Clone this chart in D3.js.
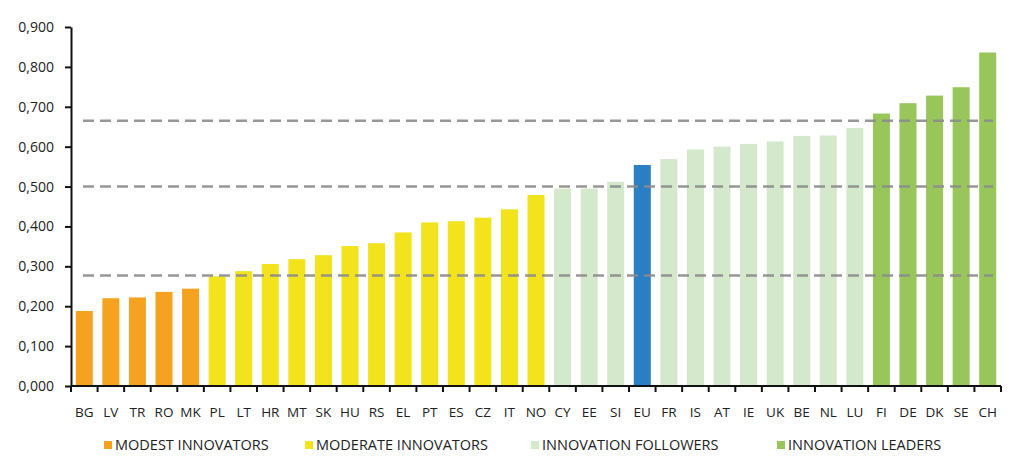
<!DOCTYPE html>
<head>
<meta charset="utf-8">
<script src="https://cdn.jsdelivr.net/npm/d3@7"></script>
<style>
  body { margin: 0; background: #fff; }
  text { font-family: "Open Sans", sans-serif; fill: #222; }
  .axis .domain { stroke: #111; stroke-width: 2; }
  .axis .tick line { stroke: #111; stroke-width: 2; }
</style>
</head>
<body>
<svg width="1024" height="469"></svg>

<script>
// data
var countries = ["BG","LV","TR","RO","MK","PL","LT","HR","MT","SK","HU","RS","EL","PT","ES","CZ","IT","NO",
                 "CY","EE","SI","EU","FR","IS","AT","IE","UK","BE","NL","LU","FI","DE","DK","SE","CH"];
var scores = [0.188,0.220,0.222,0.236,0.244,0.275,0.288,0.306,0.318,0.328,0.351,0.358,0.385,0.410,0.413,0.422,0.443,0.479,
              0.495,0.495,0.512,0.554,0.569,0.593,0.600,0.607,0.613,0.627,0.628,0.647,0.683,0.709,0.728,0.749,0.836];
var groups = ["modest","modest","modest","modest","modest",
              "moderate","moderate","moderate","moderate","moderate","moderate","moderate","moderate","moderate","moderate","moderate","moderate","moderate",
              "follower","follower","follower","eu","follower","follower","follower","follower","follower","follower","follower","follower",
              "leader","leader","leader","leader","leader"];
var thresholds = [0.277, 0.500, 0.665];
var yTicks = [0,0.1,0.2,0.3,0.4,0.5,0.6,0.7,0.8,0.9];
var legendKeys = ["modest","moderate","follower","leader"];
var legendLabels = ["MODEST INNOVATORS","MODERATE INNOVATORS","INNOVATION FOLLOWERS","INNOVATION LEADERS"];

var colors = {modest:"#f4a21f", moderate:"#f2e31c", follower:"#d4e8cb", eu:"#2a7fc4", leader:"#98c65a"};

var data = countries.map(function(c, i) { return {name: c, value: scores[i], group: groups[i]}; });

var svg = d3.select("svg"),
    margin = {top: 27, right: 23, bottom: 83, left: 71},
    width = +svg.attr("width") - margin.left - margin.right,
    height = +svg.attr("height") - margin.top - margin.bottom,
    g = svg.append("g").attr("transform", "translate(" + margin.left + "," + margin.top + ")");

var x = d3.scaleBand()
    .domain(countries)
    .range([0, width])
    .paddingInner(0.36)
    .paddingOuter(0.18);

var y = d3.scaleLinear()
    .domain([0, 0.9])
    .range([height, 0]);

var fmt = function(d) { return d3.format(".3f")(d).replace(".", ","); };

g.selectAll(".bar")
  .data(data)
  .enter().append("rect")
    .attr("class", "bar")
    .attr("x", function(d) { return x(d.name); })
    .attr("y", function(d) { return y(d.value); })
    .attr("width", x.bandwidth())
    .attr("height", function(d) { return y(0) - y(d.value); })
    .attr("fill", function(d) { return colors[d.group]; });

// dashed threshold lines
g.selectAll(".thr")
  .data(thresholds)
  .enter().append("line")
    .attr("class", "thr")
    .attr("x1", 12)
    .attr("x2", width - 8)
    .attr("y1", function(d) { return y(d); })
    .attr("y2", function(d) { return y(d); })
    .attr("stroke", "#8c8c8c")
    .attr("stroke-opacity", 0.9)
    .attr("stroke-width", 2.5)
    .attr("stroke-dasharray", "11,6");

// x axis, ticks at band edges
var xAxis = g.append("g")
    .attr("class", "axis")
    .attr("transform", "translate(0," + height + ")");
xAxis.append("line")
    .attr("class", "domain")
    .attr("x1", 0).attr("x2", width)
    .attr("stroke", "#111").attr("stroke-width", 2);
xAxis.selectAll(".tick")
  .data(d3.range(countries.length + 1))
  .enter().append("line")
    .attr("x1", function(i) { return i * width / countries.length; })
    .attr("x2", function(i) { return i * width / countries.length; })
    .attr("y1", 0).attr("y2", 6)
    .attr("stroke", "#111").attr("stroke-width", 2);
xAxis.selectAll(".lbl")
  .data(countries)
  .enter().append("text")
    .attr("x", function(d) { return x(d) + x.bandwidth() / 2; })
    .attr("y", 31)
    .attr("text-anchor", "middle")
    .attr("font-size", 13.5)
    .text(function(d) { return d; });

g.append("g")
    .attr("class", "axis")
    .call(d3.axisLeft(y).tickValues(yTicks).tickFormat(fmt).tickSize(6).tickSizeOuter(0))
  .selectAll("text")
    .attr("font-size", 14)
    .attr("x", -17)
    .style("font-family", "'Open Sans', sans-serif")
    .attr("fill", "#222");

// legend
var legendX = [104, 305, 531, 777];
var legend = svg.append("g")
  .selectAll("g")
  .data(legendKeys)
  .enter().append("g")
    .attr("transform", function(d, i) { return "translate(" + legendX[i] + ",445)"; });

legend.append("rect")
    .attr("x", 0).attr("y", -4)
    .attr("width", 8).attr("height", 8)
    .attr("fill", function(d) { return colors[d]; });

legend.append("text")
    .attr("x", 11)
    .attr("dy", "0.35em")
    .attr("font-size", 14.5)
    .text(function(d, i) { return legendLabels[i]; });
</script>
</body>
